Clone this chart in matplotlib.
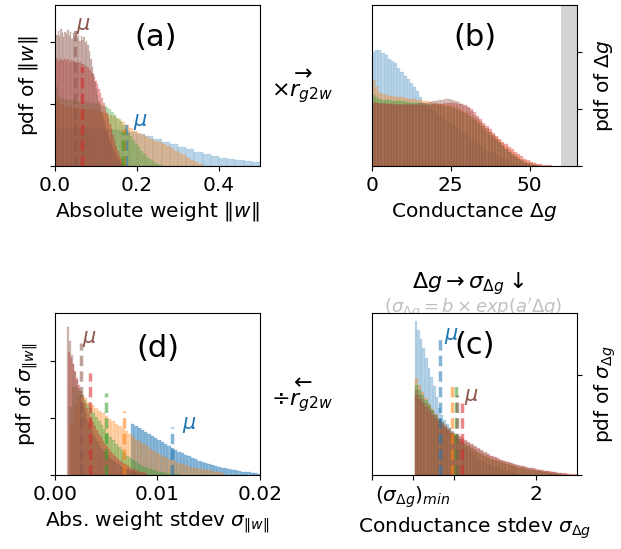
import numpy as np
import matplotlib
matplotlib.use("Agg")
from matplotlib import pyplot as plt

# colours for the five networks (drawn in this order)
colors = ['tab:blue', 'tab:orange', 'tab:green', 'tab:red', 'tab:brown']

# ---- (a) absolute weight |w| : bin range and bar heights per series
a_range = [(0.0, 0.56), (0.0, 0.36), (0.0, 0.26), (0.0, 0.17), (0.0, 0.165)]
a_blue = [0.60, 0.62, 0.62, 0.61, 0.60, 0.60, 0.59, 0.58, 0.56, 0.55, 0.52, 0.48, 0.43, 0.39,
          0.35, 0.31, 0.27, 0.23, 0.19, 0.16, 0.13, 0.11, 0.09, 0.08, 0.07, 0.06, 0.05, 0.04]
a_orange = [1.06, 1.0, 0.97, 0.95, 0.94, 0.93, 0.92, 0.92, 0.91, 0.90, 0.89, 0.88, 0.86, 0.83,
            0.80, 0.76, 0.71, 0.66, 0.61, 0.57, 0.53, 0.50, 0.47, 0.44, 0.41, 0.38, 0.35, 0.32,
            0.29, 0.25, 0.21, 0.17, 0.13, 0.09, 0.06, 0.03]
a_green = [1.27, 1.15, 1.1, 1.08, 1.07, 1.06, 1.06, 1.05, 1.05, 1.04, 1.04, 1.03, 1.03, 1.02,
           1.02, 1.01, 1.0, 0.99, 0.97, 0.95, 0.92, 0.88, 0.83, 0.78, 0.72, 0.66, 0.60, 0.54,
           0.48, 0.42, 0.36, 0.30, 0.25, 0.20, 0.15, 0.11, 0.08, 0.05, 0.03, 0.01]
a_red = [1.75, 1.72, 1.7, 1.74, 1.71, 1.69, 1.73, 1.7, 1.72, 1.68, 1.71, 1.69, 1.7, 1.67, 1.69,
         1.66, 1.68, 1.64, 1.65, 1.62, 1.6, 1.58, 1.55, 1.52, 1.48, 1.44, 1.38, 1.32, 1.25, 1.18,
         1.1, 1.02, 0.94, 0.86, 0.77, 0.68, 0.59, 0.5, 0.41, 0.33, 0.25, 0.18, 0.12, 0.07, 0.03]
a_brown = [2.2, 2.12, 2.18, 2.1, 2.22, 2.15, 2.08, 2.17, 2.13, 2.2, 2.1, 2.16, 2.05, 2.14, 2.09,
           2.18, 2.06, 2.12, 2.02, 2.1, 2.04, 2.08, 1.98, 2.02, 1.95, 1.85, 1.72, 1.6, 1.48, 1.36,
           1.25, 1.15, 1.05, 0.96, 0.88, 0.8, 0.72, 0.64, 0.56, 0.49, 0.42, 0.35, 0.29, 0.24,
           0.19, 0.15, 0.11, 0.07, 0.04, 0.02]
a_means = [0.172, 0.168, 0.165, 0.065, 0.049]
a_mean_tops = [0.68, 0.6, 0.55, 1.6, 2.19]

# ---- (b) conductance dg
b_range = [(0, 48), (0, 54), (0, 54), (0, 57), (0, 52)]
b_blue = [2.0, 2.04, 2.03, 1.98, 1.95, 1.88, 1.84, 1.8, 1.72, 1.65, 1.58, 1.52, 1.46, 1.38, 1.32,
          1.2, 1.1, 1.04, 1.0, 0.96, 0.92, 0.88, 0.84, 0.8, 0.76, 0.72, 0.68, 0.64, 0.6, 0.56,
          0.52, 0.48, 0.44, 0.4, 0.36, 0.32, 0.28, 0.25, 0.22, 0.19, 0.16, 0.13, 0.1, 0.08,
          0.06, 0.04, 0.02, 0.01]
b_orange = [1.5, 1.38, 1.3, 1.26, 1.24, 1.23, 1.22, 1.21, 1.2, 1.2, 1.19, 1.18, 1.18, 1.17,
            1.16, 1.15, 1.14, 1.13, 1.12, 1.11, 1.1, 1.09, 1.08, 1.07, 1.06, 1.05, 1.03, 1.01,
            0.98, 0.95, 0.92, 0.88, 0.84, 0.8, 0.75, 0.7, 0.65, 0.6, 0.55, 0.5, 0.45, 0.4, 0.35,
            0.3, 0.25, 0.21, 0.17, 0.13, 0.1, 0.07, 0.05, 0.03, 0.02, 0.01]
b_green = [1.25, 1.2, 1.17, 1.16, 1.15, 1.15, 1.14, 1.14, 1.13, 1.13, 1.12, 1.12, 1.11, 1.11,
           1.1, 1.1, 1.09, 1.09, 1.08, 1.08, 1.07, 1.06, 1.05, 1.04, 1.03, 1.02, 1.0, 0.98,
           0.95, 0.92, 0.88, 0.84, 0.8, 0.75, 0.7, 0.65, 0.6, 0.55, 0.5, 0.45, 0.4, 0.35, 0.3,
           0.25, 0.21, 0.17, 0.13, 0.1, 0.07, 0.05, 0.03, 0.02, 0.01, 0.005]
b_red = [1.1, 1.1, 1.09, 1.09, 1.08, 1.08, 1.08, 1.07, 1.07, 1.07, 1.06, 1.06, 1.06, 1.06, 1.06,
         1.06, 1.06, 1.07, 1.07, 1.08, 1.08, 1.09, 1.09, 1.1, 1.1, 1.1, 1.1, 1.09, 1.08, 1.06,
         1.03, 0.99, 0.94, 0.88, 0.82, 0.76, 0.7, 0.64, 0.58, 0.52, 0.47, 0.42, 0.38, 0.33,
         0.29, 0.25, 0.21, 0.17, 0.13, 0.1, 0.07, 0.05, 0.04, 0.03, 0.02, 0.01, 0.01]
b_brown = [1.12, 1.11, 1.1, 1.1, 1.09, 1.09, 1.09, 1.08, 1.08, 1.08, 1.08, 1.08, 1.08, 1.09,
           1.09, 1.1, 1.1, 1.11, 1.12, 1.13, 1.14, 1.15, 1.16, 1.17, 1.17, 1.16, 1.14, 1.12,
           1.09, 1.05, 1.01, 0.96, 0.9, 0.84, 0.78, 0.72, 0.66, 0.6, 0.54, 0.48, 0.42, 0.36,
           0.3, 0.25, 0.2, 0.16, 0.12, 0.09, 0.06, 0.04, 0.02, 0.01]
g_max = 60  # grey band beyond the max conductance

# ---- (d) abs. weight stdev
d_range = [(0.0074, 0.0204), (0.0015, 0.0165), (0.0014, 0.0125), (0.0013, 0.0090),
           (0.0012, 0.0080)]
d_blue = [0.90, 0.86, 0.82, 0.79, 0.76, 0.72, 0.68, 0.65, 0.61, 0.58, 0.54, 0.5, 0.47, 0.44,
          0.41, 0.38, 0.35, 0.33, 0.3, 0.28, 0.25, 0.23, 0.21, 0.19, 0.17, 0.155, 0.14, 0.13,
          0.115, 0.1, 0.09, 0.08, 0.07, 0.06, 0.05, 0.045, 0.04, 0.03, 0.025, 0.02]
d_orange = [0.9, 1.25, 1.38, 1.4, 1.35, 1.28, 1.22, 1.17, 1.12, 1.08, 1.04, 0.99, 0.94, 0.9,
            0.86, 0.81, 0.77, 0.72, 0.67, 0.62, 0.58, 0.54, 0.5, 0.46, 0.42, 0.38, 0.35, 0.32,
            0.29, 0.26, 0.24, 0.21, 0.19, 0.17, 0.15, 0.13, 0.12, 0.11, 0.1, 0.09, 0.08, 0.07,
            0.06, 0.05, 0.04]
d_green = [1.2, 1.55, 1.55, 1.48, 1.4, 1.32, 1.25, 1.17, 1.09, 1.01, 0.94, 0.87, 0.8, 0.73,
           0.67, 0.61, 0.55, 0.49, 0.44, 0.39, 0.34, 0.3, 0.26, 0.22, 0.19, 0.16, 0.14, 0.12,
           0.1, 0.08, 0.07, 0.06, 0.05, 0.04, 0.03, 0.025, 0.02, 0.015, 0.01, 0.005]
d_red = [2.15, 2.05, 1.95, 1.82, 1.7, 1.58, 1.47, 1.37, 1.27, 1.18, 1.09, 1.01, 0.93, 0.86,
         0.79, 0.72, 0.66, 0.6, 0.55, 0.5, 0.45, 0.41, 0.37, 0.33, 0.3, 0.27, 0.24, 0.21, 0.19,
         0.17, 0.15, 0.13, 0.11, 0.1, 0.08, 0.07, 0.06, 0.05, 0.04, 0.03]
d_brown = [2.6, 2.35, 2.1, 1.95, 1.8, 1.66, 1.52, 1.4, 1.28, 1.17, 1.07, 0.98, 0.9, 0.82, 0.75,
           0.69, 0.63, 0.58, 0.53, 0.48, 0.44, 0.4, 0.36, 0.33, 0.3, 0.27, 0.24, 0.22, 0.2,
           0.18, 0.16, 0.14, 0.12, 0.11, 0.1, 0.08, 0.07, 0.06, 0.05, 0.04]
d_means = [0.0114, 0.0067, 0.00497, 0.0034, 0.00253]
d_mean_tops = [0.85, 1.12, 1.43, 1.79, 2.32]

# ---- (c) conductance stdev
c_range = [(0.52, 1.80), (0.52, 2.30), (0.52, 2.30), (0.52, 2.50), (0.52, 2.40)]
c_blue = [1.54, 1.45, 1.36, 1.27, 1.17, 1.07, 0.98, 0.89, 0.78, 0.67, 0.6, 0.55, 0.51, 0.47,
          0.43, 0.39, 0.36, 0.33, 0.3, 0.27, 0.25, 0.22, 0.2, 0.18, 0.16, 0.14, 0.13, 0.11, 0.1,
          0.09, 0.08, 0.07, 0.06, 0.05, 0.04, 0.035, 0.03, 0.02, 0.015, 0.01]
c_orange = [0.97, 0.9, 0.83, 0.77, 0.71, 0.66, 0.61, 0.56, 0.52, 0.48, 0.45, 0.42, 0.39, 0.36,
            0.33, 0.31, 0.29, 0.27, 0.25, 0.23, 0.21, 0.19, 0.18, 0.16, 0.15, 0.14, 0.13, 0.12,
            0.11, 0.1, 0.09, 0.08, 0.07, 0.065, 0.06, 0.05, 0.045, 0.04, 0.035, 0.03, 0.025,
            0.02, 0.015, 0.01, 0.01]
c_green = [0.9, 0.85, 0.8, 0.75, 0.7, 0.65, 0.6, 0.56, 0.52, 0.48, 0.45, 0.42, 0.39, 0.36,
           0.33, 0.31, 0.29, 0.27, 0.25, 0.23, 0.21, 0.19, 0.18, 0.16, 0.15, 0.14, 0.13, 0.12,
           0.11, 0.1, 0.09, 0.08, 0.07, 0.065, 0.06, 0.05, 0.045, 0.04, 0.035, 0.03, 0.025,
           0.02, 0.015, 0.01, 0.01]
c_red = [0.8, 0.76, 0.72, 0.68, 0.64, 0.6, 0.57, 0.54, 0.51, 0.48, 0.45, 0.42, 0.4, 0.38, 0.36,
         0.34, 0.32, 0.3, 0.28, 0.26, 0.24, 0.22, 0.21, 0.19, 0.18, 0.17, 0.15, 0.14, 0.13,
         0.12, 0.11, 0.1, 0.09, 0.085, 0.08, 0.07, 0.065, 0.06, 0.05, 0.045, 0.04, 0.035, 0.03,
         0.025, 0.02, 0.02, 0.015, 0.01, 0.01, 0.005]
c_brown = [0.85, 0.8, 0.76, 0.72, 0.68, 0.64, 0.6, 0.56, 0.53, 0.5, 0.47, 0.44, 0.41, 0.39,
           0.37, 0.35, 0.33, 0.31, 0.29, 0.27, 0.25, 0.23, 0.21, 0.19, 0.18, 0.16, 0.15, 0.14,
           0.13, 0.12, 0.11, 0.1, 0.09, 0.08, 0.07, 0.065, 0.06, 0.05, 0.045, 0.04, 0.035,
           0.03, 0.025, 0.02, 0.015, 0.01, 0.005]
c_means = [0.83, 0.98, 1.02, 1.10, 1.04]
c_mean_tops = [1.37, 0.93, 0.89, 0.72, 0.8]

plt.rcParams['font.size'] = 14.5
plt.rcParams['mathtext.fontset'] = 'dejavusans'

fig = plt.figure(figsize=(6.21, 5.49), dpi=100)
ax_a = fig.add_axes([0.0886, 0.6976, 0.330, 0.2933])
ax_b = fig.add_axes([0.599, 0.6976, 0.330, 0.2933])
ax_d = fig.add_axes([0.0886, 0.1348, 0.330, 0.2951])
ax_c = fig.add_axes([0.599, 0.1348, 0.330, 0.2951])


def draw_hists(ax, ranges, series, alphas):
    for (lo, hi), h, col, al in zip(ranges, series, colors, alphas):
        edges = np.linspace(lo, hi, len(h) + 1)
        ax.hist(edges[:-1], bins=edges, weights=h, color=col, alpha=al,
                edgecolor=col, linewidth=0.25)


def draw_means(ax, means, tops):
    for m, t, col in zip(means, tops, colors):
        ax.plot([m, m], [0, t], ls=(0, (3, 1.5)), lw=2.5, color=col, alpha=0.55)


# (a)
draw_hists(ax_a, a_range, [a_blue, a_orange, a_green, a_red, a_brown], [0.3, 0.35, 0.3, 0.35, 0.4])
draw_means(ax_a, a_means, a_mean_tops)
ax_a.text(0.068, 2.26, r'$\mu$', color='tab:brown', fontsize=15, ha='center', va='center')
ax_a.text(0.207, 0.71, r'$\mu$', color='tab:blue', fontsize=15, ha='center', va='center')
ax_a.set_xlim(0, 0.5)
ax_a.set_ylim(0, 2.6)
ax_a.set_xticks([0, 0.2, 0.4])
ax_a.set_xticklabels(['0.0', '0.2', '0.4'])
ax_a.set_yticks([0, 1, 2])
ax_a.set_yticklabels([])
ax_a.set_xlabel(r'Absolute weight $\|w\|$')
ax_a.set_ylabel(r'pdf of $\|w\|$')
ax_a.text(0.49, 0.8, '(a)', transform=ax_a.transAxes, fontsize=22, ha='center', va='center')

# (b)
draw_hists(ax_b, b_range, [b_blue, b_orange, b_green, b_red, b_brown], [0.3, 0.35, 0.35, 0.35, 0.35])
ax_b.axvspan(g_max, 65, color='lightgray', lw=0)
ax_b.set_xlim(0, 65)
ax_b.set_ylim(0, 2.82)
ax_b.set_xticks([0, 25, 50])
ax_b.set_yticks([0, 1, 2])
ax_b.set_yticklabels([])
ax_b.yaxis.tick_right()
ax_b.yaxis.set_label_position('right')
ax_b.set_xlabel(r'Conductance $\Delta g$')
ax_b.set_ylabel(r'pdf of $\Delta g$')
ax_b.text(0.5, 0.8, '(b)', transform=ax_b.transAxes, fontsize=22, ha='center', va='center')

# (d)
draw_hists(ax_d, d_range, [d_blue, d_orange, d_green, d_red, d_brown], [0.5, 0.35, 0.35, 0.35, 0.4])
draw_means(ax_d, d_means, d_mean_tops)
ax_d.text(0.0033, 2.38, r'$\mu$', color='tab:brown', fontsize=15, ha='center', va='center')
ax_d.text(0.0131, 0.88, r'$\mu$', color='tab:blue', fontsize=15, ha='center', va='center')
ax_d.set_xlim(0, 0.02)
ax_d.set_ylim(0, 2.84)
ax_d.set_xticks([0, 0.01, 0.02])
ax_d.set_xticklabels(['0.00', '0.01', '0.02'])
ax_d.set_yticks([0, 1, 2])
ax_d.set_yticklabels([])
ax_d.set_xlabel(r'Abs. weight stdev $\sigma_{\|w\|}$')
ax_d.set_ylabel(r'pdf of $\sigma_{\|w\|}$')
ax_d.text(0.5, 0.78, '(d)', transform=ax_d.transAxes, fontsize=22, ha='center', va='center')

# (c)
draw_hists(ax_c, c_range, [c_blue, c_orange, c_green, c_red, c_brown], [0.3, 0.35, 0.35, 0.35, 0.35])
draw_means(ax_c, c_means, c_mean_tops)
ax_c.text(0.97, 1.39, r'$\mu$', color='tab:blue', fontsize=15, ha='center', va='center')
ax_c.text(1.21, 0.78, r'$\mu$', color='tab:brown', fontsize=15, ha='center', va='center')
ax_c.set_xlim(0, 2.5)
ax_c.set_ylim(0, 1.62)
ax_c.set_xticks([0, 0.5, 1, 2])
ax_c.set_xticklabels(['', r'$(\sigma_{\Delta g})_{min}$', '', '2'])
ax_c.set_yticks([0, 1])
ax_c.set_yticklabels([])
ax_c.yaxis.tick_right()
ax_c.yaxis.set_label_position('right')
ax_c.set_xlabel(r'Conductance stdev $\sigma_{\Delta g}$')
ax_c.set_ylabel(r'pdf of $\sigma_{\Delta g}$')
ax_c.text(0.5, 0.8, '(c)', transform=ax_c.transAxes, fontsize=22, ha='center', va='center')

# arrows / annotations between panels
fig.text(301 / 621, 1 - 72 / 549, r'$\rightarrow$', fontsize=16, ha='center', va='center')
fig.text(302 / 621, 1 - 93 / 549, r'$\times r_{g2w}$', fontsize=16, ha='center', va='center')
fig.text(301 / 621, 1 - 381 / 549, r'$\leftarrow$', fontsize=16, ha='center', va='center')
fig.text(302 / 621, 1 - 403 / 549, r'$\div r_{g2w}$', fontsize=16, ha='center', va='center')
fig.text(468 / 621, 1 - 283 / 549, r'$\Delta g \rightarrow \sigma_{\Delta g} \downarrow$',
         fontsize=16, ha='center', va='center')
fig.text(473 / 621, 1 - 309 / 549, r"$(\sigma_{\Delta g} = b \times exp(a'\Delta g)$",
         fontsize=13, color='#c0c0c0', ha='center', va='center', zorder=-1)

fig.savefig('out.png', dpi=100)
